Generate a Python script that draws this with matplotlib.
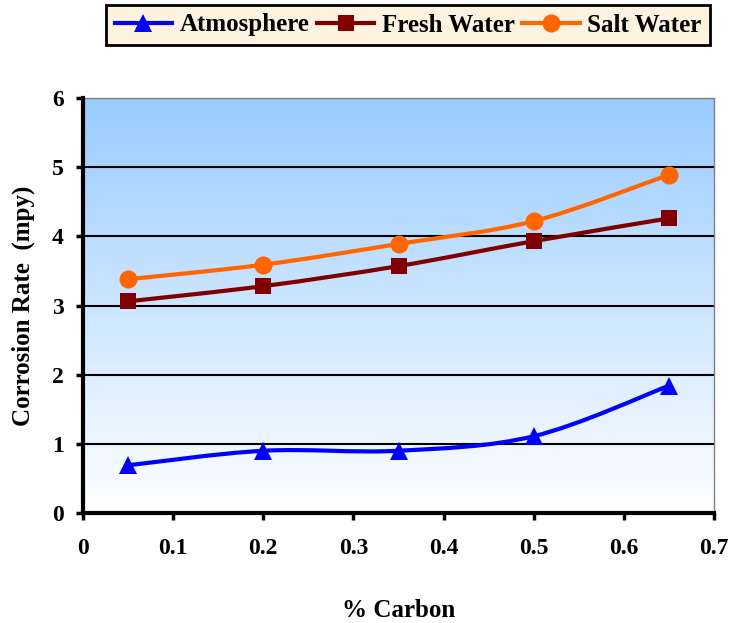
import numpy as np
import matplotlib
matplotlib.use("Agg")
import matplotlib.pyplot as plt
from matplotlib.path import Path
from matplotlib.patches import PathPatch
from matplotlib.lines import Line2D

carbon = [0.05, 0.2, 0.35, 0.5, 0.65]
atmosphere = [0.69, 0.90, 0.90, 1.11, 1.84]
fresh_water = [3.06, 3.28, 3.57, 3.93, 4.26]
salt_water = [3.38, 3.59, 3.89, 4.22, 4.89]
series_names = ["Atmosphere", "Fresh Water", "Salt Water"]
x_ticks = [0, 0.1, 0.2, 0.3, 0.4, 0.5, 0.6, 0.7]
y_ticks = [0, 1, 2, 3, 4, 5, 6]

plt.rcParams['font.family'] = ['Liberation Serif', 'DejaVu Serif']
plt.rcParams['font.weight'] = 'bold'

fig = plt.figure(figsize=(7.31, 6.23), dpi=100)
ax = fig.add_axes([83/731, 1-513/623, (714-83)/731, (513-98)/623])

# gradient background
grad = np.linspace(0, 1, 256).reshape(-1, 1)
top = np.array([153, 204, 255]) / 255.0
bot = np.array([255, 255, 255]) / 255.0
img = (top[None, None, :] * (1 - grad[:, :, None]) + bot[None, None, :] * grad[:, :, None])
ax.imshow(img, extent=[0, 1, 0, 1], transform=ax.transAxes, aspect='auto', zorder=0)

def smooth_path(xs, ys):
    pts = np.column_stack([xs, ys])
    n = len(pts)
    verts = [pts[0]]
    codes = [Path.MOVETO]
    for i in range(n - 1):
        p0 = pts[i - 1] if i > 0 else pts[i]
        p1 = pts[i]
        p2 = pts[i + 1]
        p3 = pts[i + 2] if i + 2 < n else pts[i + 1]
        c1 = p1 + (p2 - p0) / 6.0
        c2 = p2 - (p3 - p1) / 6.0
        verts += [c1, c2, p2]
        codes += [Path.CURVE4] * 3
    return Path(verts, codes)

styles = [
    (atmosphere, '#0000FF', '^', 13),
    (fresh_water, '#800000', 's', 12),
    (salt_water, '#FF6600', 'o', 13),
]
handles = []
for (vals, col, mk, ms), name in zip(styles, series_names):
    patch = PathPatch(smooth_path(carbon, vals), facecolor='none', edgecolor=col,
                      lw=3, zorder=3, capstyle='round', joinstyle='round')
    ax.add_patch(patch)
    ax.plot(carbon, vals, linestyle='none', marker=mk, color=col, markersize=ms,
            markeredgewidth=0, zorder=4)
    handles.append(Line2D([], [], color=col, lw=3, marker=mk, markersize=ms,
                          markeredgewidth=0, label=name))

ax.set_xlim(0, 0.7)
ax.set_ylim(0, 6)
ax.set_xticks(x_ticks)
ax.set_xticklabels(['0' if t == 0 else f'{t:g}' for t in x_ticks])
ax.set_yticks(y_ticks)
ax.yaxis.grid(True, color='black', lw=1.5)
ax.set_axisbelow(True)

for s in ['left', 'bottom']:
    ax.spines[s].set_color('black')
    ax.spines[s].set_linewidth(3)
for s in ['top', 'right']:
    ax.spines[s].set_color('#808080')
    ax.spines[s].set_linewidth(1)
ax.spines['left'].set_zorder(5)
ax.spines['bottom'].set_zorder(5)

ax.tick_params(axis='both', direction='out', length=5, width=2.5, labelsize=17)
ax.tick_params(axis='x', pad=13)
ax.tick_params(axis='y', pad=9)
for lab in ax.get_xticklabels() + ax.get_yticklabels():
    lab.set_fontweight('bold')

ax.set_xlabel('% Carbon', fontsize=18, fontweight='bold', labelpad=29)
ax.set_ylabel('Corrosion Rate  (mpy)', fontsize=18, fontweight='bold', labelpad=12)

leg = fig.legend(handles=handles, loc='center', bbox_to_anchor=(408/731, 1-25/623),
                 ncol=3, frameon=True, fancybox=False,
                 handlelength=2.3, columnspacing=0.3, handletextpad=0.3,
                 borderpad=0.35, prop={'weight': 'bold', 'size': 18})
leg.get_frame().set_facecolor('#FDF3E0')
leg.get_frame().set_edgecolor('black')
leg.get_frame().set_linewidth(2)
leg.get_frame().set_alpha(1)

fig.savefig('out.png', dpi=100)
